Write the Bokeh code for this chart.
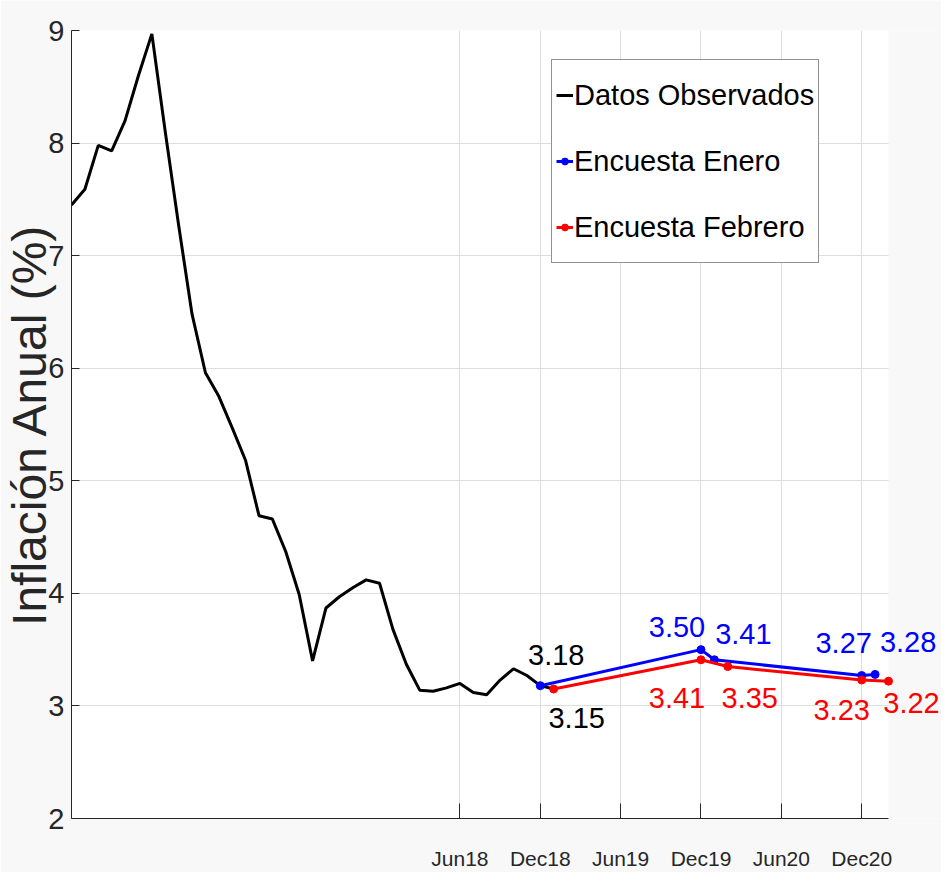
from bokeh.plotting import figure
from bokeh.models import Range1d, FixedTicker, Legend, LegendItem, Label, BoxAnnotation
from bokeh.embed import file_html
from bokeh.resources import INLINE

# ---------------- data ----------------
# month index: 0 = Jan 2016
obs_x = list(range(37))  # Jan 2016 .. Jan 2019
obs_y = [7.45, 7.59, 7.98, 7.93, 8.20, 8.60, 8.97, 8.10, 7.27, 6.48, 5.96, 5.75,
         5.47, 5.18, 4.69, 4.66, 4.37, 3.99, 3.40, 3.87, 3.97, 4.05, 4.12, 4.09,
         3.68, 3.37, 3.14, 3.13, 3.16, 3.20, 3.12, 3.10, 3.23, 3.33, 3.27, 3.18,
         3.15]

ene_x = [35, 47, 48, 59, 60]
ene_y = [3.18, 3.50, 3.41, 3.27, 3.28]

feb_x = [36, 47, 49, 59, 61]
feb_y = [3.15, 3.41, 3.35, 3.23, 3.22]

x_tick_pos = [29, 35, 41, 47, 53, 59]
x_tick_labels = ["Jun18", "Dec18", "Jun19", "Dec19", "Jun20", "Dec20"]
y_ticks = [2, 3, 4, 5, 6, 7, 8, 9]
x_end = 61  # last month shown (Feb 2021)

series_names = ["Datos Observados", "Encuesta Enero", "Encuesta Febrero"]
y_label = "Inflación Anual (%)"

# ---------------- styles ----------------
FONT = "Liberation Sans"
TXT = "#262626"
GRID = "#dedede"
BG = "#f8f8f8"
AX_W = 817     # pixel width of the axes area
EXTRA = 53     # extra room at right for the value labels

p = figure(frame_width=AX_W + EXTRA, frame_height=788,
           min_border_left=65, min_border_top=30, min_border_right=0, min_border_bottom=52,
           x_range=Range1d(0, x_end * (AX_W + EXTRA) / AX_W), y_range=Range1d(2, 9),
           output_backend="svg", toolbar_location=None,
           background_fill_color="white", border_fill_color=BG,
           outline_line_color=None)

# x axis
p.xaxis.ticker = FixedTicker(ticks=x_tick_pos)
p.xaxis.bounds = (0, x_end)
p.xaxis.major_label_overrides = {pos: lab for pos, lab in zip(x_tick_pos, x_tick_labels)}
p.xaxis.major_tick_in = 15
p.xaxis.major_tick_out = 0
p.xaxis.minor_tick_line_color = None
p.xaxis.axis_line_color = TXT
p.xaxis.major_tick_line_color = TXT
p.xaxis.major_label_text_font = FONT
p.xaxis.major_label_text_font_size = "21px"
p.xaxis.major_label_text_color = TXT
p.xaxis.major_label_standoff = 28

# y axis
p.yaxis.ticker = FixedTicker(ticks=y_ticks)
p.yaxis.major_tick_in = 8
p.yaxis.major_tick_out = 0
p.yaxis.minor_tick_line_color = None
p.yaxis.axis_line_color = TXT
p.yaxis.major_tick_line_color = TXT
p.yaxis.major_label_text_font = FONT
p.yaxis.major_label_text_font_size = "29px"
p.yaxis.major_label_text_color = TXT
p.yaxis.major_label_standoff = 7
p.yaxis.axis_label = y_label
p.yaxis.axis_label_text_font = FONT
p.yaxis.axis_label_text_font_size = "48px"
p.yaxis.axis_label_text_font_style = "normal"
p.yaxis.axis_label_text_color = TXT
p.yaxis.axis_label_standoff = -11

p.xgrid.ticker = FixedTicker(ticks=x_tick_pos)
p.xgrid.grid_line_color = GRID
p.ygrid.ticker = FixedTicker(ticks=y_ticks)
p.ygrid.grid_line_color = GRID

# hide the part of the frame beyond the last month (room for labels only)
p.add_layout(BoxAnnotation(left=x_end, fill_color=BG, fill_alpha=1.0,
                           line_color=None, level="underlay"))

# series
r_obs = p.line(obs_x, obs_y, line_color="black", line_width=3)
r_ene_l = p.line(ene_x, ene_y, line_color="blue", line_width=3)
r_ene_m = p.scatter(ene_x, ene_y, size=8, color="blue")
r_feb_l = p.line(feb_x, feb_y, line_color="red", line_width=3)
r_feb_m = p.scatter(feb_x, feb_y, size=8, color="red")

# value labels
lab_x = [obs_x[35], obs_x[36]] + ene_x[1:] + feb_x[1:]
lab_y = [obs_y[35], obs_y[36]] + ene_y[1:] + feb_y[1:]
lab_col = ["black", "black"] + ["blue"] * 4 + ["red"] * 4
lab_dx = [16, 23, -24, 29, -18, 33, -24, 22, -20, 23]
lab_dy = [31, -29, 23, 26, 33, 32, -38, -31, -30, -22]
for x, y, c, dx, dy in zip(lab_x, lab_y, lab_col, lab_dx, lab_dy):
    p.add_layout(Label(x=x, y=y, text=f"{y:.2f}", text_color=c,
                       x_offset=dx, y_offset=dy, text_align="center",
                       text_baseline="middle", text_font=FONT,
                       text_font_size="29px"))

legend = Legend(items=[LegendItem(label=series_names[0], renderers=[r_obs]),
                       LegendItem(label=series_names[1], renderers=[r_ene_l, r_ene_m]),
                       LegendItem(label=series_names[2], renderers=[r_feb_l, r_feb_m])],
                location=(480, 555), orientation="vertical",
                label_text_font=FONT, label_text_font_size="29px",
                label_text_color="black", glyph_width=17, glyph_height=20,
                label_standoff=1, padding=4, spacing=4, label_height=62,
                border_line_color=TXT, border_line_width=1,
                background_fill_color="white", background_fill_alpha=1.0, margin=0)
p.add_layout(legend)

open("out.html", "w").write(file_html(p, INLINE))
